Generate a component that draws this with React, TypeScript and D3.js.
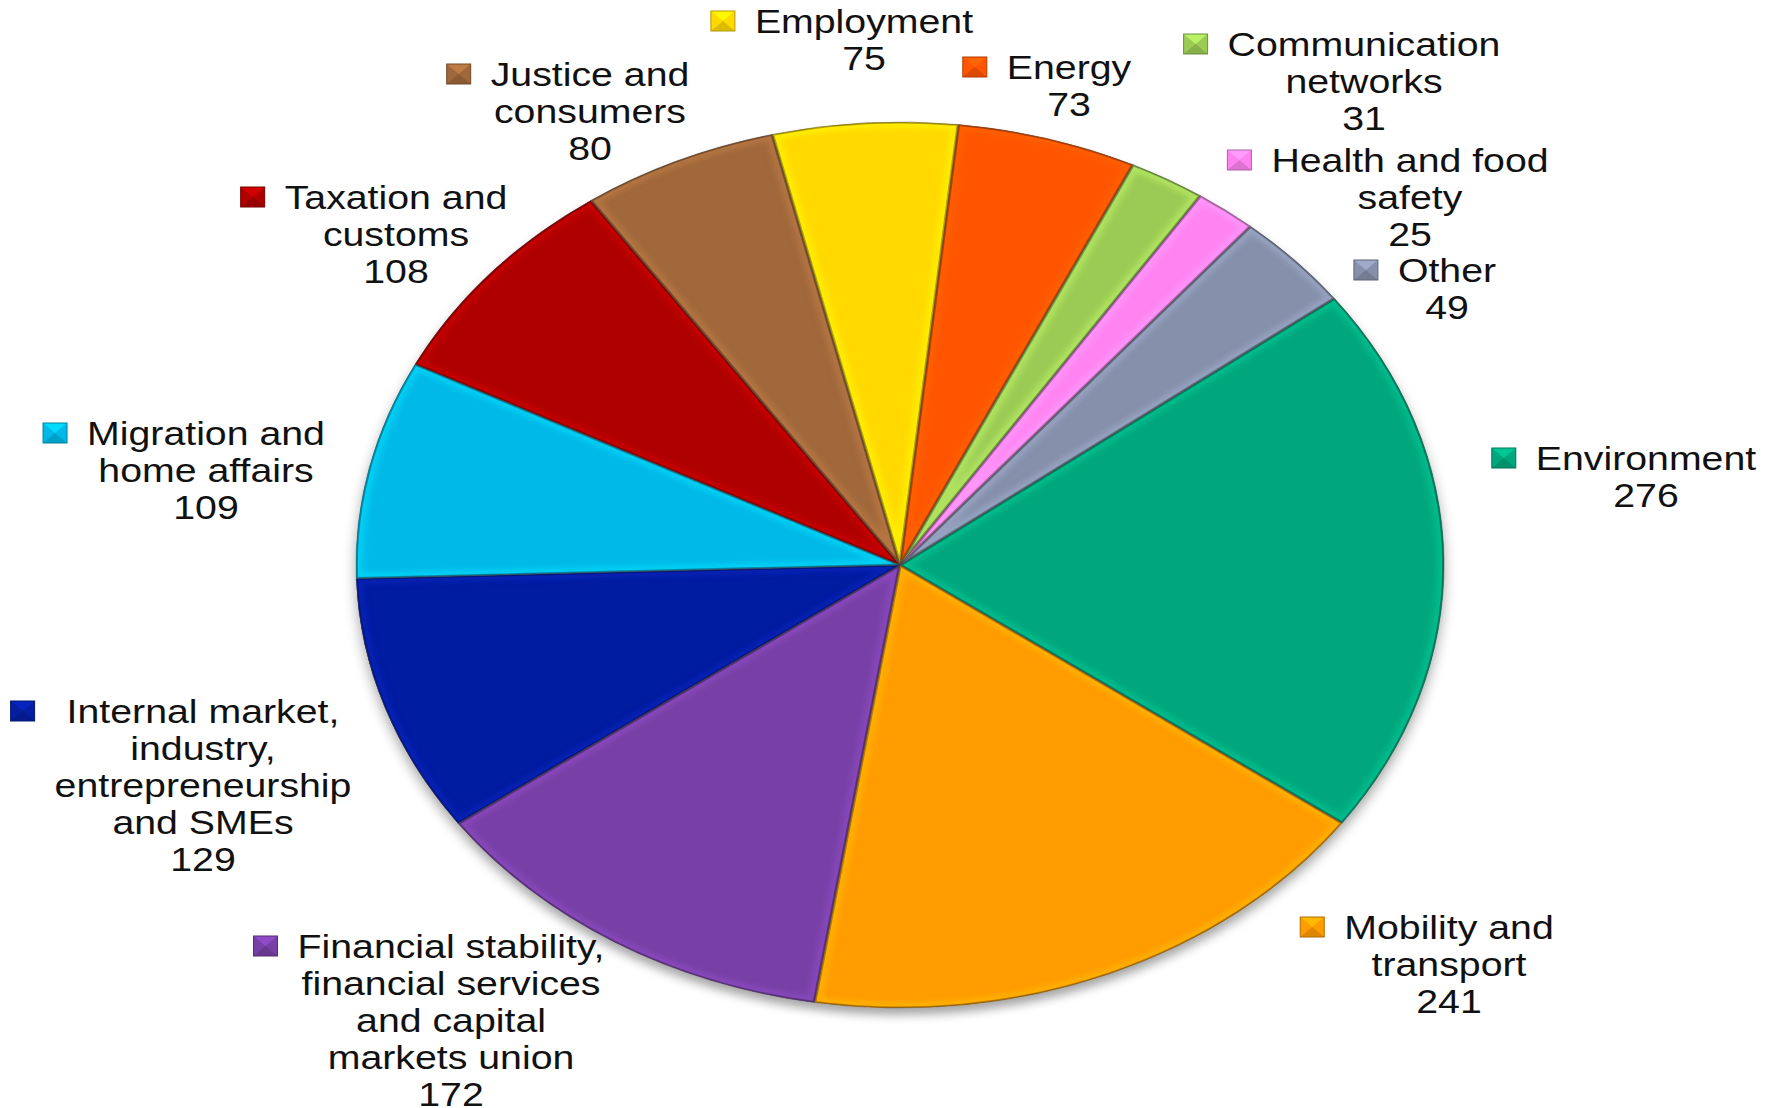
import React, { useEffect, useRef } from "react";
import * as d3 from "d3";

const nameLines: string[][] = [
  ["Environment"],
  ["Mobility and", "transport"],
  ["Financial stability,", "financial services", "and capital", "markets union"],
  ["Internal market,", "industry,", "entrepreneurship", "and SMEs"],
  ["Migration and", "home affairs"],
  ["Taxation and", "customs"],
  ["Justice and", "consumers"],
  ["Employment"],
  ["Energy"],
  ["Communication", "networks"],
  ["Health and food", "safety"],
  ["Other"],
];
const categories = nameLines.map((l) => l.join(" "));
const values = [276, 241, 172, 129, 109, 108, 80, 75, 73, 31, 25, 49];
const colors = [
  "#00A77D", "#FF9C00", "#7840A6", "#061FA0", "#00B9E8", "#AF0000",
  "#A0683A", "#FFD900", "#FF5500", "#9CCB55", "#FF84F2", "#8590AA",
];
// label layout: [centre x, first baseline y]
const labelPos: [number, number][] = [
  [1646, 470], [1449, 939], [451, 958], [203, 723], [206, 445], [396, 209],
  [590, 86], [864, 33], [1069, 79], [1364, 56], [1410, 172], [1447, 282],
];
const markerExtraGap = [0, 0, 0, 12, 0, 0, 0, 0, 0, 0, 0, 0];

const W = 1777, H = 1108;
const CX = 900, CY = 565, RY = 443, SX = 1.228;
const START = (53 * Math.PI) / 180;
const FONT = 33, TSX = 1.19, LH = 37;

export default function App() {
  const ref = useRef<SVGSVGElement>(null);
  useEffect(() => {
    const svg = d3.select(ref.current);
    svg.selectAll("*").remove();
    const defs = svg.append("defs");
    const sh = defs.append("filter").attr("id", "shadow").attr("x", "-10%").attr("y", "-10%").attr("width", "120%").attr("height", "125%");
    sh.append("feDropShadow").attr("dx", 0).attr("dy", 7).attr("stdDeviation", 5).attr("flood-color", "#000").attr("flood-opacity", 0.35);
    const bl = defs.append("filter").attr("id", "blur");
    bl.append("feGaussianBlur").attr("stdDeviation", 2.5);

    const pie = d3.pie<number>().sort(null).value((d) => d).startAngle(START).endAngle(START + 2 * Math.PI);
    const arcs = pie(values);
    const arc = d3.arc<d3.PieArcDatum<number>>().innerRadius(0).outerRadius(RY);

    const g = svg.append("g").attr("transform", `translate(${CX},${CY}) scale(${SX},1)`);
    const base = g.append("g").attr("filter", "url(#shadow)");
    base.selectAll("path").data(arcs).join("path")
      .attr("d", arc as any)
      .attr("fill", (_, i) => colors[i]);

    arcs.forEach((a, i) => {
      defs.append("clipPath").attr("id", `clip${i}`).append("path").attr("d", arc(a) as string);
    });
    const hl = g.append("g");
    arcs.forEach((a, i) => {
      const c = d3.color(colors[i])!;
      const grp = hl.append("g").attr("clip-path", `url(#clip${i})`);
      grp.append("path").attr("d", arc(a) as string).attr("fill", "none")
        .attr("stroke", c.brighter(0.6).formatHex()).attr("stroke-width", 12)
        .attr("opacity", 0.5).attr("filter", "url(#blur)");
      grp.append("path").attr("d", arc(a) as string).attr("fill", "none")
        .attr("stroke", c.darker(1.3).formatHex()).attr("stroke-width", 3)
        .attr("opacity", 0.75);
    });
    g.append("g").selectAll("path").data(arcs).join("path")
      .attr("d", arc as any).attr("fill", "none")
      .attr("stroke", "#444").attr("stroke-width", 0.8).attr("stroke-opacity", 0.5);

    // labels
    const lg = svg.append("g").attr("font-family", "'Liberation Sans', Arial, sans-serif")
      .attr("font-size", FONT).attr("fill", "#111");
    nameLines.forEach((lines, i) => {
      const [x, y] = labelPos[i];
      const all = [...lines, String(values[i])];
      let firstW = 0;
      all.forEach((t, k) => {
        const te = lg.append("text")
          .attr("transform", `translate(${x},${y + k * LH}) scale(${TSX},1)`)
          .attr("text-anchor", "middle").text(t);
        if (k === 0) firstW = (te.node() as SVGTextElement).getComputedTextLength() * TSX;
      });
      const mw = 24, mh = 20;
      const mx = x - firstW / 2 - 20 - mw - markerExtraGap[i];
      const my = y - 22;
      const c = d3.color(colors[i])!;
      const m = lg.append("g");
      m.append("rect").attr("x", mx).attr("y", my).attr("width", mw).attr("height", mh).attr("fill", colors[i]);
      m.append("path")
        .attr("d", `M${mx},${my}L${mx + mw},${my}L${mx + mw / 2},${my + mh / 2}Z`)
        .attr("fill", c.brighter(0.6).formatHex()).attr("opacity", 0.8);
      m.append("path")
        .attr("d", `M${mx},${my + mh}L${mx + mw},${my + mh}L${mx + mw / 2},${my + mh / 2}Z`)
        .attr("fill", c.darker(0.6).formatHex()).attr("opacity", 0.7);
      m.append("rect").attr("x", mx).attr("y", my).attr("width", mw).attr("height", mh)
        .attr("fill", "none").attr("stroke", c.darker(1).formatHex()).attr("stroke-width", 1);
    });
  }, []);
  return (
    <svg ref={ref} width={W} height={H} style={{ position: "absolute", left: 0, top: 0, background: "#fff" }}
      aria-label={categories.join(", ")} />
  );
}
